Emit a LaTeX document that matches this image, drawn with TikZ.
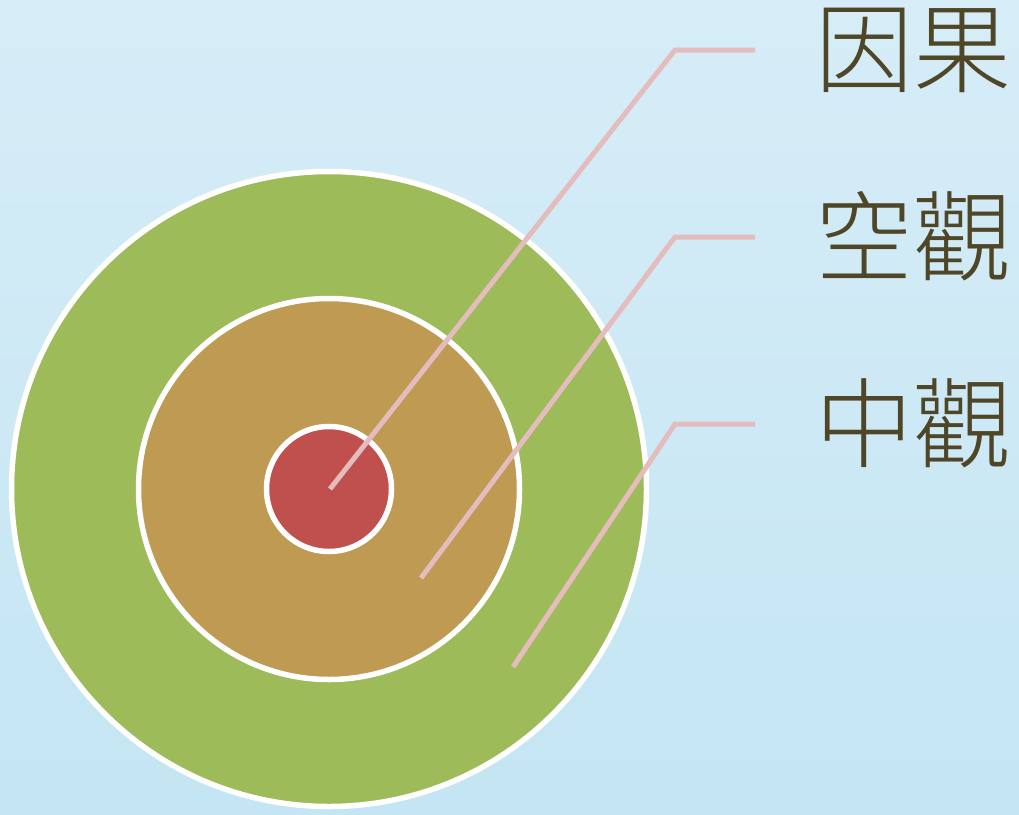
\documentclass[tikz,border=0pt]{standalone}
\usepackage{fontspec}
\newfontfamily\cjk[UprightFont=* Light]{Noto Sans CJK TC}
\usetikzlibrary{positioning}
\definecolor{paperblue}{RGB}{214,237,247}
\definecolor{paperdeep}{RGB}{196,229,243}
\definecolor{ringgreen}{RGB}{157,187,89}
\definecolor{ringtan}{RGB}{191,154,82}
\definecolor{ringred}{RGB}{192,80,77}
\definecolor{leaderpink}{RGB}{228,188,190}
\definecolor{textbrown}{RGB}{79,70,40}

\begin{document}
\begin{tikzpicture}[x=1pt, y=-1pt,
    ring/.style={circle, draw=white, line width=5.5pt, inner sep=0pt},
    leader/.style={color=leaderpink, line width=5pt, line cap=butt, line join=miter},
    word/.style={anchor=west, inner sep=0pt, text=textbrown, font=\cjk\fontsize{98}{98}\selectfont}]
\shade[top color=paperblue, bottom color=paperdeep] (0,0) rectangle (1019,814);
\useasboundingbox (0,0) rectangle (1019,814);
\node[ring, fill=ringgreen, minimum size=635pt] (outer) at (329,489) {};
\node[ring, fill=ringtan, minimum size=381pt] (middle) at (329,489) {};
\node[ring, fill=ringred, minimum size=125pt] (inner) at (329,489) {};
\node[word] (yinguo) at (815,50) {因果};
\node[word] (kongguan) at (815,236) {空觀};
\node[word] (zhongguan) at (815,423) {中觀};
\coordinate (p1) at (330,489);
\coordinate (p2) at (421,578);
\coordinate (p3) at (513,667);
\coordinate (b1) at (675,50);
\coordinate (b2) at (675,237);
\coordinate (b3) at (675,424);
\coordinate (e1) at (755,50);
\coordinate (e2) at (755,237);
\coordinate (e3) at (755,424);
\draw[leader] (p1) -- (b1) -- (e1);
\draw[leader] (p2) -- (b2) -- (e2);
\draw[leader] (p3) -- (b3) -- (e3);
\end{tikzpicture}
\end{document}
